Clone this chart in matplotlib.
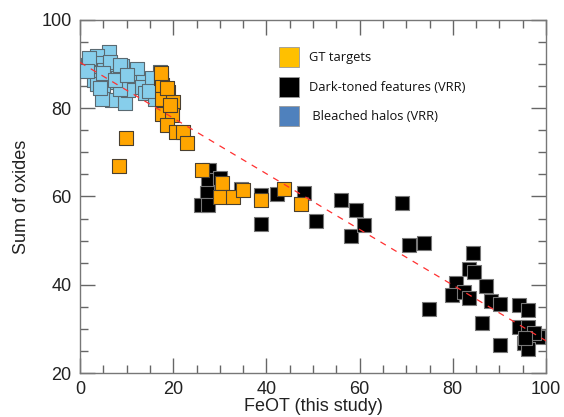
import matplotlib
matplotlib.use("Agg")
import matplotlib.pyplot as plt
from matplotlib.ticker import MultipleLocator
from matplotlib.patches import Rectangle

plt.rcParams['font.family'] = ['Liberation Sans', 'DejaVu Sans']

# bleached halos (VRR)
blue_x = [6.3, 3.6, 1.7, 3.6, 3.2, 2.9, 5.2, 6.5, 7.5, 9.0, 12.2, 8.2, 6.1, 5.0, 6.8, 4.7,
          9.7, 11.1, 13.6, 13.2, 10.4, 13.9, 16.1, 17.2, 8.6, 3.6, 6.5, 8.6, 5.0, 7.5, 15.4,
          4.3, 2.0, 10.0, 14.8, 1.5]
blue_y = [92.8, 91.8, 89.8, 90.3, 87.9, 86.4, 88.7, 89.8, 88.7, 89.6, 88.8, 86.8, 86.0, 84.1,
          81.9, 82.0, 81.3, 86.0, 86.0, 84.9, 84.1, 83.4, 82.2, 88.3, 84.3, 85.6, 90.5, 89.8,
          88.0, 86.4, 86.8, 84.5, 91.5, 87.5, 84.0, 88.5]

# GT targets
gt_x = [17.3, 17.5, 18.9, 17.5, 20.0, 17.5, 19.7, 18.6, 20.7, 22.1, 22.9, 9.8, 8.3, 19.3,
        18.6, 17.3, 26.2, 30.5, 30.0, 32.9, 34.9, 38.8, 43.7, 47.5]
gt_y = [86.8, 85.3, 83.7, 82.2, 81.5, 78.8, 78.5, 76.2, 74.7, 74.7, 72.2, 73.2, 66.9, 80.7,
        84.5, 88.0, 66.0, 63.0, 59.9, 59.9, 61.5, 59.3, 61.7, 58.3]

# dark-toned features (VRR)
dark_x = [27.7, 27.5, 30.0, 27.2, 25.9, 27.5, 34.5, 38.8, 38.8, 42.3, 48.1, 50.7, 56.1, 59.3,
          58.1, 60.9, 69.1, 70.7, 73.9, 74.8, 84.4, 83.5, 84.5, 80.7, 79.8, 82.5, 83.4, 87.2,
          86.3, 88.3, 90.2, 90.1, 94.2, 96.2, 94.2, 96.2, 98.2, 95.3, 96.2, 97.5, 95.5]
dark_y = [66.0, 63.7, 64.1, 60.7, 58.0, 58.0, 61.8, 60.3, 53.7, 60.5, 60.9, 54.4, 59.2, 56.9,
          51.0, 53.5, 58.6, 49.0, 49.5, 34.5, 47.2, 43.5, 42.9, 40.5, 37.6, 38.4, 37.0, 39.8,
          31.4, 36.3, 35.6, 26.3, 35.4, 34.2, 30.4, 30.4, 28.2, 26.8, 25.5, 29.0, 28.0]

# trend line
fit_x = [0, 100]
fit_y = [90.4, 27.3]

legend_labels = ['GT targets', 'Dark-toned features (VRR)', ' Bleached halos (VRR)']
legend_colors = ['#FFC000', '#000000', '#4F81BD']

fig = plt.figure(figsize=(5.64, 4.17), dpi=100)
ax = fig.add_axes([80 / 564, 1 - 373 / 417, 466 / 564, 353 / 417])

ax.plot(fit_x, fit_y, color='#ff3030', lw=0.9, dashes=(5, 5), zorder=4)
ax.scatter(dark_x, dark_y, marker='s', s=95, c='black', edgecolors='#777777', linewidths=0.8, zorder=2)
ax.scatter(blue_x, blue_y, marker='s', s=95, c='#87CEEB', edgecolors='#5a6a72', linewidths=0.8, zorder=3)
ax.scatter(gt_x, gt_y, marker='s', s=95, c='#FFA500', edgecolors='#4a4030', linewidths=0.8, zorder=3)

ax.set_xlim(0, 100)
ax.set_ylim(20, 100)
ax.xaxis.set_major_locator(MultipleLocator(20))
ax.xaxis.set_minor_locator(MultipleLocator(5))
ax.yaxis.set_major_locator(MultipleLocator(20))
ax.yaxis.set_minor_locator(MultipleLocator(5))
ax.tick_params(which='both', direction='in', top=True, right=True, color='#666666',
               labelsize=13, labelcolor='#222222')
ax.tick_params(which='major', length=11, width=1, pad=6)
ax.tick_params(which='minor', length=5.5, width=1)
for sp in ax.spines.values():
    sp.set_color('#777777')
    sp.set_linewidth(1)

ax.set_xlabel('FeOT (this study)', fontsize=13, color='#222222', labelpad=0)
ax.set_ylabel('Sum of oxides', fontsize=13, color='#222222', labelpad=8)

# hand-made legend
for i, (lab, col) in enumerate(zip(legend_labels, legend_colors)):
    yc = [0.895, 0.810, 0.727][i]
    ax.add_patch(Rectangle((0.428, yc - 0.028), 0.043, 0.056, transform=ax.transAxes,
                           facecolor=col, edgecolor='#999999', lw=0.6, zorder=5))
    ax.text(0.492, yc, lab, transform=ax.transAxes, fontsize=9.3, va='center',
            family=['Open Sans', 'DejaVu Sans'], color='#111111', zorder=5)

fig.savefig('out.png', dpi=100)
